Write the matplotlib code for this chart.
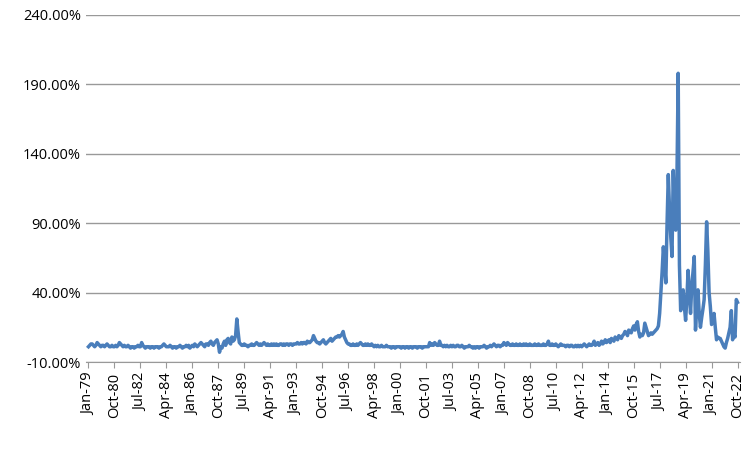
import matplotlib
matplotlib.use("Agg")
import matplotlib.pyplot as plt
import numpy as np

yearly = {
1979: [1,2,3,3,2,1,2,4,3,2,1,2],
1980: [2,1,2,3,2,1,1,2,1,1,2,1],
1981: [2,4,3,2,1,2,1,1,2,1,0,1],
1982: [1,0,1,1,2,1,1,4,2,1,0,1],
1983: [1,1,0,1,1,0,1,1,1,0,1,1],
1984: [2,3,2,1,1,1,2,1,0,1,1,0],
1985: [1,1,2,1,0,1,1,2,1,2,0,1],
1986: [2,1,3,2,1,2,3,4,3,2,1,3],
1987: [3,2,4,5,3,2,4,5,6,3,-3,1],
1988: [0,3,5,2,6,7,4,3,8,5,6,9],
1989: [21,12,4,3,2,2,3,2,2,1,2,2],
1990: [3,2,2,3,4,3,2,3,2,3,4,3],
1991: [2,3,2,2,3,2,3,2,3,2,2,3],
1992: [3,2,3,2,3,3,2,3,3,2,3,3],
1993: [3,4,3,3,4,3,4,4,3,5,4,4],
1994: [5,6,9,7,5,4,4,3,4,5,6,4],
1995: [3,4,5,6,7,5,6,7,8,8,9,8],
1996: [9,10,12,8,6,4,3,3,2,2,3,2],
1997: [2,3,2,3,4,3,2,2,3,2,3,2],
1998: [2,3,2,1,2,1,2,1,1,2,1,1],
1999: [1,2,1,1,1,0,1,1,0,1,1,1],
2000: [1,0,1,1,0,1,1,0,1,1,0,1],
2001: [1,1,0,1,1,1,0,1,1,1,1,1],
2002: [4,2,3,2,4,3,2,2,5,2,2,1],
2003: [2,1,2,1,1,2,1,2,1,1,2,2],
2004: [1,1,2,1,0,1,1,1,2,1,1,0],
2005: [1,0,1,1,0,1,1,1,2,1,0,1],
2006: [1,2,1,2,3,2,1,2,2,1,2,2],
2007: [4,3,2,4,3,2,2,3,2,2,3,2],
2008: [2,3,2,2,3,2,3,2,2,3,2,2],
2009: [2,3,2,2,3,2,2,2,3,2,2,3],
2010: [5,2,2,3,2,2,3,2,1,2,3,2],
2011: [2,2,1,2,2,1,2,2,1,1,2,1],
2012: [2,1,2,1,2,3,2,1,2,3,2,2],
2013: [3,5,2,3,4,2,3,5,3,4,6,4],
2014: [5,6,4,7,6,5,8,7,6,9,8,7],
2015: [9,10,12,11,9,13,12,11,14,16,13,17],
2016: [19,12,8,10,9,11,18,15,12,9,10,11],
2017: [10,11,12,13,14,16,25,40,55,73,60,47],
2018: [90,125,100,80,66,128,95,85,123,198,60,27],
2019: [35,42,30,20,35,56,40,25,45,55,66,13],
2020: [30,42,25,15,22,28,35,60,91,70,40,30],
2021: [17,20,25,15,6,8,7,7,5,3,1,0],
2022: [4,7,11,15,27,6,10,8,35,33],
}
values = [v for y in sorted(yearly) for v in yearly[y]]
months = ["Jan","Feb","Mar","Apr","May","Jun","Jul","Aug","Sep","Oct","Nov","Dec"]
labels = [f"{months[i%12]}-{(79+i//12)%100:02d}" for i in range(len(values))]

plt.rcParams['font.family'] = ['Open Sans', 'DejaVu Sans']
fig = plt.figure(figsize=(7.54, 4.51), dpi=100)
ax = fig.add_axes([86/754, (451-362)/451, (740-86)/754, 347/451])
x = np.arange(len(values))
ax.plot(x, values, color='#4a7ebb', lw=2.5)
ax.set_ylim(-10, 240)
ax.set_yticks(np.arange(-10, 241, 50))
ax.set_yticklabels([f"{v:.2f}%" for v in np.arange(-10, 241, 50)], fontsize=10.5)
ax.yaxis.grid(True, color='#999999', lw=1)
ax.set_axisbelow(True)
ticks = list(range(0, len(values), 21))
ax.set_xticks(ticks)
ax.set_xticklabels([labels[i] for i in ticks], rotation=90, fontsize=10.5)
ax.set_xlim(-2, len(values)+1)
for s in ['top', 'right', 'left']:
    ax.spines[s].set_visible(False)
ax.spines['bottom'].set_color('#999999')
ax.tick_params(axis='y', length=0)
ax.tick_params(axis='x', length=4, color='#999999')
fig.savefig("out.png", dpi=100)
